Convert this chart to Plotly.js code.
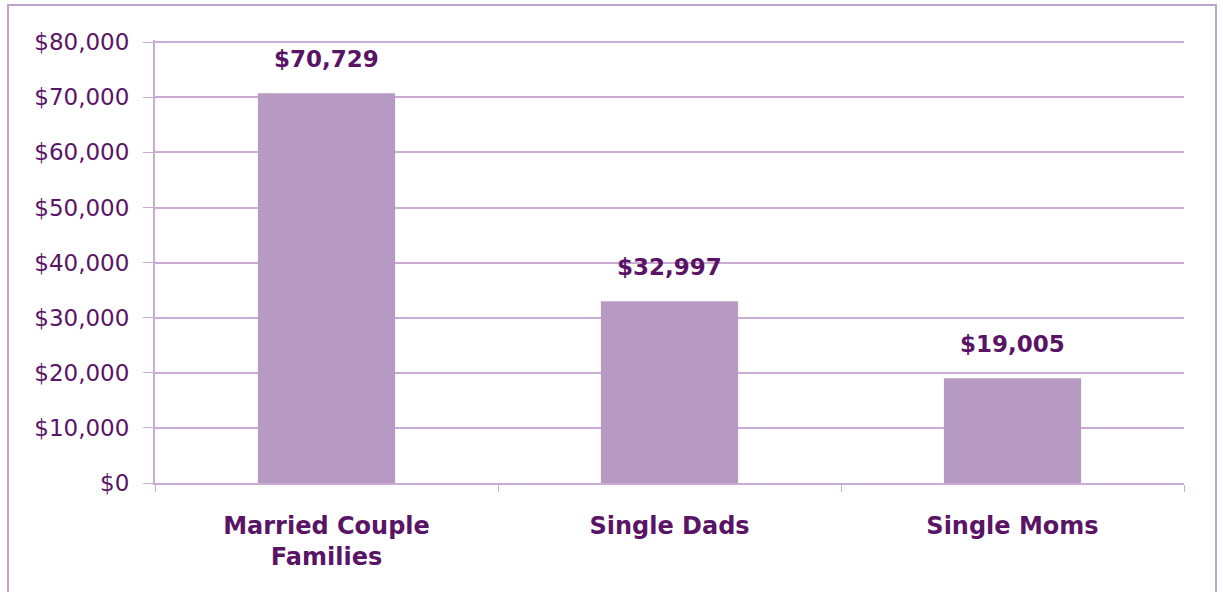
<!DOCTYPE html>
<html><head><meta charset="utf-8">
<script src="https://cdn.plot.ly/plotly-3.0.1.min.js"></script>
<style>
html,body{margin:0;padding:0;background:#fff;}
#frame{position:absolute;left:7px;top:4px;width:1210px;height:600px;border:2px solid #bfa3cb;box-sizing:border-box;}
#chart{position:absolute;left:0;top:0;width:1223px;height:592px;}
</style></head>
<body>
<div id="frame"></div>
<div id="chart"></div>
<script>
const categories = ["Married Couple<br>Families", "Single Dads", "Single Moms"];
const values = [70729, 32997, 19005];
const valueLabels = ["$70,729", "$32,997", "$19,005"];
const yTickVals = [0, 10000, 20000, 30000, 40000, 50000, 60000, 70000, 80000];
const yTickText = ["$0", "$10,000", "$20,000", "$30,000", "$40,000", "$50,000", "$60,000", "$70,000", "$80,000"];

const purple = "#5a1466";
const grid = "#c9abd5";

const trace = {
  type: "bar",
  x: categories,
  y: values,
  marker: {color: "#b79ac3"},
  width: 0.4,
  hoverinfo: "none"
};

const annotations = categories.map((c, i) => ({
  x: c, y: values[i], xref: "x", yref: "y",
  text: valueLabels[i], showarrow: false,
  yanchor: "bottom", yshift: 19,
  font: {family: "DejaVu Sans", size: 23, color: purple, weight: "bold"}
}));

const layout = {
  width: 1223, height: 592,
  margin: {l: 155, r: 39, t: 40, b: 109},
  paper_bgcolor: "rgba(0,0,0,0)",
  plot_bgcolor: "rgba(0,0,0,0)",
  showlegend: false,
  xaxis: {
    type: "category",
    showline: true, linecolor: grid, linewidth: 2,
    ticks: "outside", tickson: "boundaries", ticklen: 7, tickcolor: grid, tickwidth: 1,
    ticklabelstandoff: 20,
    tickfont: {family: "DejaVu Sans", size: 24, color: purple, weight: "bold"},
    showgrid: false, zeroline: false, fixedrange: true
  },
  yaxis: {
    range: [0, 80400],
    tickvals: yTickVals, ticktext: yTickText,
    showline: true, linecolor: grid, linewidth: 2,
    ticks: "outside", ticklen: 10, tickcolor: grid, tickwidth: 1,
    ticklabelstandoff: 9,
    showgrid: true, gridcolor: grid, gridwidth: 2,
    zeroline: false,
    tickfont: {family: "DejaVu Sans", size: 23, color: purple},
    fixedrange: true
  },
  annotations: annotations
};

Plotly.newPlot("chart", [trace], layout, {displayModeBar: false, staticPlot: true});
</script>
</body></html>
